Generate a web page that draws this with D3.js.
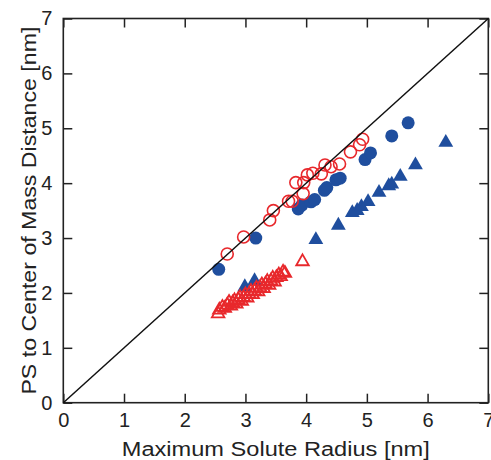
<!DOCTYPE html>
<html>
<head>
<meta charset="utf-8">
<script src="https://cdn.jsdelivr.net/npm/d3@7"></script>
<style>
  body { margin: 0; background: #fff; }
  text { font-family: "Liberation Sans", Arial, sans-serif; fill: #222; }
</style>
</head>
<body>
<div id="chart"></div>
<script>
const width = 491,
      height = 460;
const margin = {top: 18.5, right: 2.7, bottom: 57.3, left: 63.3};

// [radius, distance]
const blueCircles = [
  [2.56, 2.43], [3.17, 3.00], [3.87, 3.53], [3.93, 3.60], [4.08, 3.66], [4.14, 3.70],
  [4.30, 3.87], [4.34, 3.92], [4.49, 4.06], [4.56, 4.09], [4.97, 4.43], [5.06, 4.55],
  [5.41, 4.86], [5.68, 5.10]
];
const redCircles = [
  [2.70, 2.71], [2.97, 3.02], [3.40, 3.33], [3.46, 3.50], [3.71, 3.67], [3.77, 3.67],
  [3.83, 4.01], [3.95, 3.81], [3.96, 4.01], [4.02, 4.15], [4.11, 4.18], [4.25, 4.17],
  [4.31, 4.33], [4.41, 4.30], [4.55, 4.35], [4.73, 4.57], [4.88, 4.70], [4.93, 4.80]
];
const blueTriangles = [
  [2.99, 2.11], [3.15, 2.22], [4.16, 2.97], [4.53, 3.23], [4.76, 3.46], [4.84, 3.50],
  [4.91, 3.57], [5.02, 3.66], [5.20, 3.83], [5.36, 3.95], [5.41, 3.98], [5.55, 4.12],
  [5.80, 4.33], [6.30, 4.74]
];
const redTriangles = [
  [2.55, 1.62], [2.57, 1.69], [2.62, 1.74], [2.66, 1.72], [2.70, 1.78], [2.73, 1.83],
  [2.76, 1.76], [2.79, 1.82], [2.82, 1.86], [2.85, 1.80], [2.88, 1.88], [2.91, 1.92],
  [2.94, 1.85], [2.97, 1.92], [3.00, 1.97], [3.03, 1.91], [3.06, 1.98], [3.09, 2.03],
  [3.12, 1.97], [3.15, 2.04], [3.18, 2.09], [3.21, 2.02], [3.24, 2.10], [3.27, 2.15],
  [3.30, 2.08], [3.33, 2.16], [3.36, 2.21], [3.39, 2.14], [3.42, 2.22], [3.45, 2.27],
  [3.48, 2.20], [3.51, 2.28], [3.55, 2.33], [3.58, 2.30], [3.62, 2.38], [3.65, 2.36],
  [3.94, 2.57]
];
const ticks = [0, 1, 2, 3, 4, 5, 6, 7];

const blue = "#1f4e9e",
      red = "#e8282c";

let x = d3.scaleLinear().domain([0, 7]).range([margin.left, width - margin.right]);
let y = d3.scaleLinear().domain([0, 7]).range([height - margin.bottom, margin.top]);

let svg = d3.select("#chart")
  .append("svg")
  .attr("width", width)
  .attr("height", height);

// ticks on all four sides, pointing in
let tickSize = -9;
svg.append("g")
  .attr("transform", "translate(0," + y(0) + ")")
  .call(d3.axisBottom(x).tickValues(ticks).tickSize(tickSize).tickPadding(10).tickFormat(d3.format("d")));
svg.append("g")
  .attr("transform", "translate(" + x(0) + ",0)")
  .call(d3.axisLeft(y).tickValues(ticks).tickSize(tickSize).tickPadding(11).tickFormat(d3.format("d")));
svg.append("g")
  .attr("transform", "translate(0," + y(7) + ")")
  .call(d3.axisTop(x).tickValues(ticks).tickSize(tickSize).tickFormat(""));
svg.append("g")
  .attr("transform", "translate(" + x(7) + ",0)")
  .call(d3.axisRight(y).tickValues(ticks).tickSize(tickSize).tickFormat(""));

svg.selectAll(".domain").remove();
svg.selectAll(".tick line").style("stroke", "#222").style("stroke-width", 1.5);
svg.selectAll(".tick text").style("font-size", "20px").style("fill", "#222");

svg.append("rect")
  .attr("x", x(0))
  .attr("y", y(7))
  .attr("width", x(7) - x(0))
  .attr("height", y(0) - y(7))
  .style("fill", "none")
  .style("stroke", "#222")
  .style("stroke-width", 1.6);

let tri = (size) => d3.symbol().type(d3.symbolTriangle).size(size);

svg.selectAll(".bc")
  .data(blueCircles)
  .enter()
  .append("circle")
  .attr("cx", (d) => x(d[0]))
  .attr("cy", (d) => y(d[1]))
  .attr("r", 6.5)
  .style("fill", blue);

svg.selectAll(".bt")
  .data(blueTriangles)
  .enter()
  .append("path")
  .attr("d", tri(95))
  .attr("transform", (d) => "translate(" + x(d[0]) + "," + y(d[1]) + ")")
  .style("fill", blue);

svg.selectAll(".rt")
  .data(redTriangles)
  .enter()
  .append("path")
  .attr("d", tri(68))
  .attr("transform", (d) => "translate(" + x(d[0]) + "," + y(d[1]) + ")")
  .style("fill", "none")
  .style("stroke", red)
  .style("stroke-width", 1.8);

svg.selectAll(".rc")
  .data(redCircles)
  .enter()
  .append("circle")
  .attr("cx", (d) => x(d[0]))
  .attr("cy", (d) => y(d[1]))
  .attr("r", 6)
  .style("fill", "none")
  .style("stroke", red)
  .style("stroke-width", 1.6);

// y = x reference line
svg.append("line")
  .attr("x1", x(0))
  .attr("y1", y(0))
  .attr("x2", x(7))
  .attr("y2", y(7))
  .style("stroke", "#111")
  .style("stroke-width", 1.5);

svg.append("text")
  .attr("x", (x(0) + x(7)) / 2)
  .attr("y", 456)
  .attr("text-anchor", "middle")
  .attr("textLength", 308)
  .attr("lengthAdjust", "spacingAndGlyphs")
  .style("font-size", "20px")
  .text("Maximum Solute Radius [nm]");

svg.append("text")
  .attr("transform", "translate(36," + (y(0) + y(7)) / 2 + ") rotate(-90)")
  .attr("text-anchor", "middle")
  .attr("textLength", 368)
  .attr("lengthAdjust", "spacingAndGlyphs")
  .style("font-size", "20px")
  .text("PS to Center of Mass Distance [nm]");
</script>
</body>
</html>
